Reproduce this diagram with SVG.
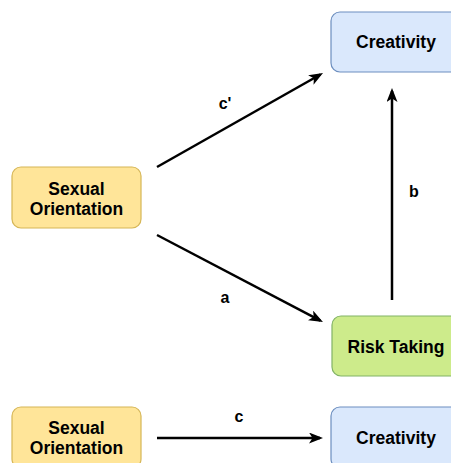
<svg xmlns="http://www.w3.org/2000/svg" width="451" height="463" viewBox="0 0 451 463">
<defs>
<style>
text{font-family:"Liberation Sans",Arial,sans-serif;font-weight:bold;fill:#000;text-anchor:middle}
.n{font-size:17.5px}
.l{font-size:16px}
.y{fill:#ffe599;stroke:#d6b656;stroke-width:1.2}
.b{fill:#dae8fc;stroke:#6c8ebf;stroke-width:1.2}
.g{fill:#cdeb8b;stroke:#82b366;stroke-width:1.2}
.e{stroke:#000;stroke-width:2.5;fill:none;marker-end:url(#ah)}
</style>
<marker id="ah" viewBox="0 0 14 11" refX="11" refY="5.5" markerWidth="14" markerHeight="11" markerUnits="userSpaceOnUse" orient="auto">
<path d="M0,0 L14,5.5 L0,11 L3.5,5.5 Z" fill="#000"/>
</marker>
</defs>
<g id="edges">
<line class="e" x1="157" y1="167" x2="320.4" y2="74.5"/>
<line class="e" x1="157" y1="235" x2="320.3" y2="320.6"/>
<line class="e" x1="392" y1="300" x2="392" y2="91"/>
<line class="e" x1="157" y1="438" x2="320" y2="438"/>
<text class="l" x="225" y="109">c'</text>
<text class="l" x="225" y="303">a</text>
<text class="l" x="414" y="197">b</text>
<text class="l" x="239" y="422">c</text>
</g>
<g id="so1"><rect class="y" x="12" y="167" width="129" height="61" rx="9"/><text class="n" x="76.5" y="195">Sexual</text><text class="n" x="76.5" y="215">Orientation</text></g>
<g id="cr1"><rect class="b" x="331" y="12" width="130" height="60" rx="9"/><text class="n" x="396" y="48">Creativity</text></g>
<g id="rt"><rect class="g" x="332" y="316" width="130" height="60" rx="9"/><text class="n" x="396" y="353">Risk Taking</text></g>
<g id="so2"><rect class="y" x="12" y="407" width="129" height="61" rx="9"/><text class="n" x="76.5" y="434">Sexual</text><text class="n" x="76.5" y="454">Orientation</text></g>
<g id="cr2"><rect class="b" x="331" y="407" width="130" height="61" rx="9"/><text class="n" x="396" y="444">Creativity</text></g>
</svg>
